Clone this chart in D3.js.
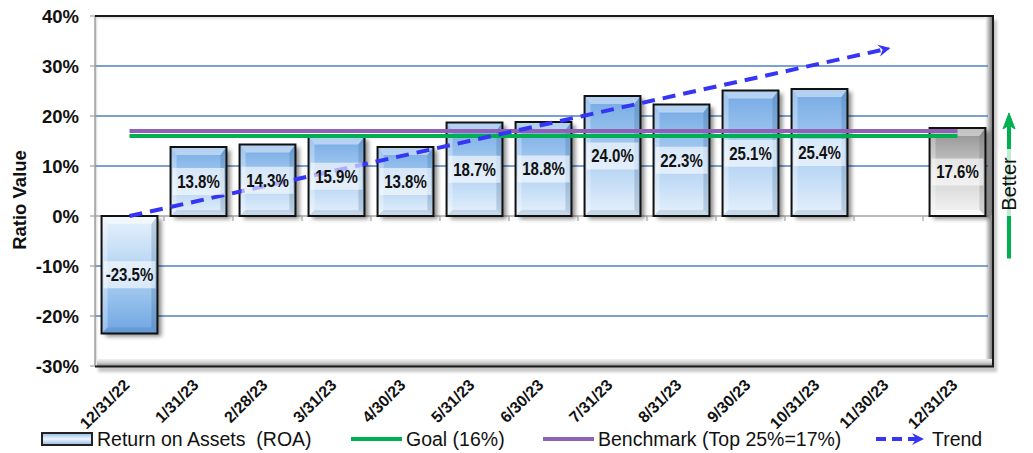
<!DOCTYPE html>
<html>
<head>
<meta charset="utf-8">
<script src="https://cdn.jsdelivr.net/npm/d3@7"></script>
<style>
  html, body { margin: 0; padding: 0; background: #fff; }
  svg { display: block; }
  text { font-family: "Liberation Sans", Arial, sans-serif; }
</style>
</head>
<body>
<svg id="chart" width="1033" height="453"></svg>
<script>
// ROA by month-end
const categories = ["12/31/22", "1/31/23", "2/28/23", "3/31/23", "4/30/23", "5/31/23", "6/30/23",
                    "7/31/23", "8/31/23", "9/30/23", "10/31/23", "11/30/23", "12/31/23"];
const roaValues = [-23.5, 13.8, 14.3, 15.9, 13.8, 18.7, 18.8, 24.0, 22.3, 25.1, 25.4, null, 17.6];
const currentPeriod = "12/31/23";
const goalValue = 16;
const benchmarkValue = 17;
const trendCategories = ["12/31/22", "11/30/23"];
const trendValues = [0, 33.5];
const yTicks = [-30, -20, -10, 0, 10, 20, 30, 40];
const legendLabels = ["Return on Assets\u00a0\u00a0(ROA)", "Goal (16%)", "Benchmark (Top 25%=17%)", "Trend"];

const svg = d3.select("#chart");
const plot = { left: 95, right: 992, top: 16, bottom: 366 };

const x = d3.scaleBand().domain(categories).range([plot.left, plot.right])
  .paddingInner(0.19).paddingOuter(0.095);
const y = d3.scaleLinear().domain([-30, 40]).range([plot.bottom, plot.top]);

const defs = svg.append("defs");
function grad(id, stops, x1 = 0, y1 = 0, x2 = 0, y2 = 1) {
  const g = defs.append("linearGradient").attr("id", id)
    .attr("x1", x1).attr("y1", y1).attr("x2", x2).attr("y2", y2);
  stops.forEach(([o, c, a]) => g.append("stop").attr("offset", o).attr("stop-color", c).attr("stop-opacity", a == null ? 1 : a));
}
grad("blueUp", [[0, "#74a9e4"], [0.45, "#a6cbf1"], [1, "#e6f1fc"]]);
grad("blueDown", [[0, "#e9f3fd"], [0.55, "#a9cdf1"], [1, "#6fa5e2"]]);
grad("grayUp", [[0, "#8f8f8f"], [0.5, "#cfcfcf"], [1, "#f6f6f6"]]);
grad("legendSwatch", [[0, "#8fb8e6"], [0.5, "#eef6fd"], [1, "#8fb8e6"]]);
grad("rightWall", [[0, "#ffffff", 0], [0.4, "#d8d8d8"], [1, "#7f7f7f"]], 0, 0, 1, 0);
grad("floor", [[0, "#f2f2f2"], [0.5, "#cfcfcf"], [1, "#8c8c8c"]]);
grad("topShade", [[0, "#cfcfcf"], [1, "#ffffff", 0]]);
grad("leftShade", [[0, "#bdbdbd"], [1, "#ffffff", 0]], 0, 0, 1, 0);

const shadow = defs.append("filter").attr("id", "barShadow")
  .attr("x", "-20%").attr("y", "-20%").attr("width", "150%").attr("height", "150%");
shadow.append("feDropShadow").attr("dx", 4).attr("dy", 3).attr("stdDeviation", 2)
  .attr("flood-color", "#000").attr("flood-opacity", 0.45);
const soft = defs.append("filter").attr("id", "soft")
  .attr("x", "-5%").attr("y", "-200%").attr("width", "110%").attr("height", "500%");
soft.append("feGaussianBlur").attr("stdDeviation", 1.8);

// frame shadow outside the plot box
svg.append("rect")
  .attr("x", plot.left + 3).attr("y", plot.top + 4)
  .attr("width", plot.right - plot.left + 2).attr("height", plot.bottom - plot.top + 2)
  .attr("fill", "#9a9a9a").attr("opacity", 0.55).attr("filter", "url(#soft)");
svg.append("rect")
  .attr("x", plot.left).attr("y", plot.top)
  .attr("width", plot.right - plot.left).attr("height", plot.bottom - plot.top)
  .attr("fill", "#fff");

// inner wall shading
svg.append("rect").attr("x", plot.left).attr("y", plot.top)
  .attr("width", plot.right - plot.left).attr("height", 6).attr("fill", "url(#topShade)");
svg.append("rect").attr("x", plot.left).attr("y", plot.top)
  .attr("width", 4).attr("height", plot.bottom - plot.top).attr("fill", "url(#leftShade)");
svg.append("rect").attr("x", plot.right - 8).attr("y", plot.top)
  .attr("width", 8).attr("height", plot.bottom - plot.top).attr("fill", "url(#rightWall)");
svg.append("rect").attr("x", plot.left + 2).attr("y", plot.bottom - 7)
  .attr("width", plot.right - plot.left - 2).attr("height", 7).attr("fill", "url(#floor)");

// gridlines with a soft shade beneath
const gridVals = yTicks.filter(v => v !== 0 && v !== -30 && v !== 40);
svg.append("g").selectAll("line").data(gridVals).join("line")
  .attr("x1", plot.left + 2).attr("x2", plot.right - 2)
  .attr("y1", d => y(d) + 3).attr("y2", d => y(d) + 3)
  .attr("stroke", "#bdbdbd").attr("stroke-width", 3).attr("opacity", 0.6)
  .attr("filter", "url(#soft)");
svg.append("g").selectAll("line").data(gridVals).join("line")
  .attr("x1", plot.left).attr("x2", plot.right - 4)
  .attr("y1", d => y(d)).attr("y2", d => y(d))
  .attr("stroke", "#4f81c4").attr("stroke-width", 1.3);

// zero line and category ticks
svg.append("line").attr("x1", plot.left).attr("x2", plot.right)
  .attr("y1", y(0)).attr("y2", y(0)).attr("stroke", "#a6a6a6").attr("stroke-width", 1.5);
const boundaries = categories.slice(1).map(c => x(c) - x.step() * x.paddingInner() / 2);
boundaries.push(plot.right);
svg.append("g").selectAll("line").data(boundaries).join("line")
  .attr("x1", d => d).attr("x2", d => d)
  .attr("y1", y(0)).attr("y2", y(0) + 5)
  .attr("stroke", "#a6a6a6").attr("stroke-width", 1.2);

// left axis line and ticks
svg.append("line").attr("x1", plot.left).attr("x2", plot.left)
  .attr("y1", plot.top).attr("y2", plot.bottom).attr("stroke", "#a0a0a0").attr("stroke-width", 1.5);
svg.append("g").selectAll("line").data(yTicks).join("line")
  .attr("x1", plot.left - 5).attr("x2", plot.left)
  .attr("y1", d => y(d)).attr("y2", d => y(d))
  .attr("stroke", "#a0a0a0").attr("stroke-width", 1.2);

// frame border
svg.append("path")
  .attr("d", `M${plot.left},${plot.top}H${plot.right + 1}V${plot.bottom + 0.5}H${plot.left}`)
  .attr("fill", "none").attr("stroke", "#1a1a1a").attr("stroke-width", 2);

// y tick labels
svg.append("g").selectAll("text").data(yTicks).join("text")
  .attr("x", 79).attr("y", d => y(d)).attr("dy", "0.36em")
  .attr("text-anchor", "end").attr("font-weight", "bold").style("font-size", "18.5px")
  .attr("fill", "#111").text(d => d + "%");

// y title
svg.append("text")
  .attr("transform", `translate(26,200) rotate(-90)`)
  .attr("text-anchor", "middle").attr("font-weight", "bold").style("font-size", "18.5px")
  .attr("fill", "#111").text("Ratio Value");

// x labels
svg.append("g").selectAll("text").data(categories).join("text")
  .attr("transform", d => `translate(${x(d) + x.bandwidth() / 2 + 1},386) rotate(-45)`)
  .attr("text-anchor", "end").attr("font-weight", "bold").style("font-size", "16px")
  .attr("fill", "#111").text(d => d);

// bars
const bars = categories.map((c, i) => ({ c, v: roaValues[i] })).filter(d => d.v != null);
const bw = x.bandwidth();
const bev = 6;
const barG = svg.append("g").selectAll("g").data(bars).join("g");
barG.each(function (d) {
  const g = d3.select(this);
  const x0 = x(d.c), x1 = x0 + bw;
  const top = Math.min(y(d.v), y(0)), bot = Math.max(y(d.v), y(0));
  const gray = d.c === currentPeriod;
  const fill = gray ? "url(#grayUp)" : (d.v >= 0 ? "url(#blueUp)" : "url(#blueDown)");
  g.append("rect").attr("x", x0).attr("y", top).attr("width", bw).attr("height", bot - top)
    .attr("fill", fill).attr("filter", "url(#barShadow)");
  const b = Math.min(bev, (bot - top) / 2);
  const poly = (pts, f, o) => g.append("polygon")
    .attr("points", pts.map(p => p.join(",")).join(" ")).attr("fill", f).attr("opacity", o);
  poly([[x0, top], [x1, top], [x1 - b, top + b + 2], [x0 + b, top + b + 2]], "#fff", 0.45);
  poly([[x0, top], [x0 + b, top + b + 2], [x0 + b, bot - b], [x0, bot]], "#fff", 0.3);
  poly([[x1, top], [x1 - b, top + b + 2], [x1 - b, bot - b], [x1, bot]], gray ? "#555" : "#1f4e79", 0.2);
  poly([[x0, bot], [x0 + b, bot - b], [x1 - b, bot - b], [x1, bot]], gray ? "#fff" : "#1f4e79", gray ? 0.6 : 0.14);
  g.append("rect").attr("x", x0).attr("y", top).attr("width", bw).attr("height", bot - top)
    .attr("fill", "none").attr("stroke", "#111").attr("stroke-width", 2);
});

// goal and benchmark lines
const lineStart = x(categories[0]) + bw / 2;
const lineEnd = x(categories[categories.length - 1]) + bw / 2;
svg.append("line").attr("x1", lineStart).attr("x2", lineEnd)
  .attr("y1", y(goalValue)).attr("y2", y(goalValue))
  .attr("stroke", "#00b050").attr("stroke-width", 4);
svg.append("line").attr("x1", lineStart).attr("x2", lineEnd)
  .attr("y1", y(benchmarkValue)).attr("y2", y(benchmarkValue))
  .attr("stroke", "#8f62b5").attr("stroke-width", 4);

// trend arrow
defs.append("marker").attr("id", "arrowHead").attr("markerUnits", "userSpaceOnUse")
  .attr("viewBox", "-2 -8 16 16").attr("markerWidth", 16).attr("markerHeight", 16)
  .attr("refX", 10).attr("refY", 0).attr("orient", "auto")
  .append("path").attr("d", "M0,-6 L12,0 L0,6 L4,0 Z").attr("fill", "#3535f5");
const trendPts = trendCategories.map((c, i) => [x(c) + bw / 2, y(trendValues[i])]);
svg.append("path").attr("d", d3.line()(trendPts))
  .attr("fill", "none").attr("stroke", "#3535f5").attr("stroke-width", 4)
  .attr("stroke-dasharray", "13,8").attr("marker-end", "url(#arrowHead)");

// value labels
const lab = svg.append("g").selectAll("g").data(bars).join("g")
  .attr("transform", d => `translate(${x(d.c)},${(y(d.v) + y(0)) / 2})`);
lab.append("rect").attr("x", 2).attr("y", -13.5).attr("width", bw - 4).attr("height", 27)
  .attr("fill", "#fff").attr("opacity", 0.6);
lab.append("text")
  .attr("transform", `translate(${bw / 2},0) scale(0.86,1)`)
  .attr("dy", "0.36em").attr("text-anchor", "middle")
  .attr("font-weight", "bold").style("font-size", "17.5px").attr("fill", "#111")
  .text(d => d.v.toFixed(1) + "%");

// "Better" direction arrow
const bx = 1009;
svg.append("line").attr("x1", bx).attr("x2", bx).attr("y1", y(-8.5)).attr("y2", y(18))
  .attr("stroke", "#00b050").attr("stroke-width", 4);
svg.append("path").attr("d", `M${bx},${y(20.6)} L${bx - 6},${y(17.4)} L${bx},${y(18.2)} L${bx + 6},${y(17.4)} Z`)
  .attr("fill", "#00b050").attr("stroke", "#00b050").attr("stroke-width", 1);
svg.append("rect").attr("x", bx - 11).attr("y", y(13.4)).attr("width", 22).attr("height", y(0) - y(13.4))
  .attr("fill", "#fff").attr("opacity", 0.75);
svg.append("text").attr("transform", `translate(${bx + 7},${y(6.4)}) rotate(-90)`)
  .attr("text-anchor", "middle").style("font-size", "20px").attr("fill", "#111").text("Better");

// legend
const leg = svg.append("g");
const ly = 439;
leg.append("rect").attr("x", 42).attr("y", ly - 6).attr("width", 50).attr("height", 12)
  .attr("fill", "url(#legendSwatch)").attr("stroke", "#222").attr("stroke-width", 2);
leg.append("line").attr("x1", 351).attr("x2", 402).attr("y1", ly).attr("y2", ly)
  .attr("stroke", "#00b050").attr("stroke-width", 4);
leg.append("line").attr("x1", 543).attr("x2", 594).attr("y1", ly).attr("y2", ly)
  .attr("stroke", "#8f62b5").attr("stroke-width", 4);
leg.append("path").attr("d", `M876,${ly}H922`)
  .attr("stroke", "#3535f5").attr("stroke-width", 4).attr("stroke-dasharray", "10,6")
  .attr("marker-end", "url(#arrowHead)");
const legX = [97, 406, 598, 932];
leg.selectAll("text").data(legendLabels).join("text")
  .attr("x", (d, i) => legX[i]).attr("y", ly).attr("dy", "0.36em")
  .style("font-size", "19.5px").attr("fill", "#111").text(d => d);
</script>
</body>
</html>
